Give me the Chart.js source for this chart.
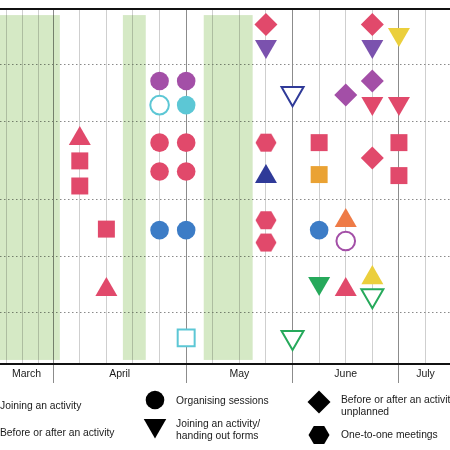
<!DOCTYPE html>
<html>
<head>
<meta charset="utf-8">
<script src="https://cdn.jsdelivr.net/npm/chart.js@4/dist/chart.umd.min.js"></script>
<style>
  body { margin: 0; background: #fff; }
  #wrap { position: relative; width: 450px; height: 450px; overflow: hidden;
          font-family: "Liberation Sans", Arial, sans-serif; color: #1a1a1a; }
  #chart { position: absolute; left: 0; top: 0; }
  .leg { position: absolute; font-size: 10.3px; line-height: 12px; white-space: nowrap; }
</style>
</head>
<body>
<div id="wrap">
  <canvas id="chart" width="450" height="450"></canvas>
  <div class="leg" style="left:0;top:400px">Joining an activity</div>
  <div class="leg" style="left:0;top:427px">Before or after an activity</div>
  <div class="leg" style="left:176px;top:395px">Organising sessions</div>
  <div class="leg" style="left:176px;top:418px">Joining an activity/<br>handing out forms</div>
  <div class="leg" style="left:341px;top:394px">Before or after an activity<br>unplanned</div>
  <div class="leg" style="left:341px;top:429px">One-to-one meetings</div>
</div>
<script>
// x = week number on the weekly grid, y = row position (0 top .. 14 bottom)
const gridWeeks = [0.256, 0.857, 1.459, 2, 3, 4, 5, 6, 7, 8, 9, 10, 11, 12, 13, 14, 15, 16];
const monthEdges = [2, 7, 11, 15];
const monthNames = ["March", "April", "May", "June", "July"];
const monthCentres = [1, 4.5, 9, 13, 16];
const rowLines = [2.17, 4.42, 7.53, 9.78, 11.95];

// green shaded periods
const breakStarts = [0, 4.62, 7.66];
const breakEnds = [2.25, 5.48, 9.5];

// squares
const squareWeeks = [3, 3, 4, 7, 12, 12, 15, 15];
const squareRows = [5.99, 6.98, 8.68, 12.97, 5.27, 6.53, 5.27, 6.57];
const squareColours = ["red", "red", "red", "cyan", "red", "orange", "red", "red"];
const squareHollow = [0, 0, 0, 1, 0, 0, 0, 0];

// triangles pointing up
const upWeeks = [3, 4, 10, 13, 13, 14];
const upRows = [5.11, 11.07, 6.61, 8.35, 11.07, 10.6];
const upColours = ["red", "red", "navy", "coral", "red", "yellow"];
const upHollow = [0, 0, 0, 0, 0, 0];

// triangles pointing down (joining an activity / handing out forms)
const downWeeks = [10, 11, 11, 12, 14, 14, 14, 15, 15];
const downRows = [1.47, 3.33, 12.95, 10.82, 1.47, 3.72, 11.3, 1.0, 3.72];
const downColours = ["violet", "navy", "green", "green", "violet", "red", "green", "yellow", "red"];
const downHollow = [0, 1, 1, 0, 0, 0, 1, 0, 0];

// circles (organising sessions)
const circleWeeks = [6, 7, 6, 7, 6, 7, 6, 7, 6, 7, 12, 13];
const circleRows = [2.84, 2.84, 3.79, 3.79, 5.27, 5.27, 6.41, 6.41, 8.72, 8.72, 8.72, 9.15];
const circleColours = ["purple", "purple", "cyan", "cyan", "red", "red", "red", "red", "blue", "blue", "blue", "purple"];
const circleHollow = [0, 0, 1, 0, 0, 0, 0, 0, 0, 0, 0, 1];

// diamonds (before or after an activity unplanned)
const diamondWeeks = [10, 13, 14, 14, 14];
const diamondRows = [0.61, 3.39, 0.61, 2.84, 5.88];
const diamondColours = ["red", "purple", "red", "purple", "red"];
const diamondHollow = [0, 0, 0, 0, 0];

// hexagons (one-to-one meetings)
const hexWeeks = [10, 10, 10];
const hexRows = [5.27, 8.33, 9.21];
const hexColours = ["red", "red", "red"];

const palette = {
  red: "#e1496b", purple: "#a34fa7", violet: "#7b52ae", cyan: "#5cc7d5",
  blue: "#3c7cc6", navy: "#2f3a98", orange: "#eaa233", coral: "#ee7b47",
  green: "#26a95b", yellow: "#ebcf3c"
};
const bandColour = "#d5e9c5";

function near(v, list) {
  return list.some((a) => Math.abs(a - v) < 0.001);
}

function hexagon(colour) {
  const c = document.createElement("canvas");
  c.width = 22;
  c.height = 20;
  const g = c.getContext("2d");
  g.fillStyle = colour;
  g.beginPath();
  for (let i = 0; i < 6; i++) {
    const a = (Math.PI / 3) * i;
    g.lineTo(11 + 10.5 * Math.cos(a), 10 + 10.5 * Math.sin(a));
  }
  g.closePath();
  g.fill();
  return c;
}

function markerSet(label, style, radius, rotation, weeks, rows, colours, hollow) {
  return {
    label: label,
    data: weeks.map((w, i) => ({ x: w, y: rows[i] })),
    pointStyle: style,
    pointRadius: radius,
    pointHoverRadius: radius,
    pointRotation: rotation,
    pointBackgroundColor: colours.map((c, i) => (hollow[i] ? "#ffffff" : palette[c])),
    pointBorderColor: colours.map((c) => palette[c]),
    pointBorderWidth: hollow.map((h) => (h ? 2 : 0))
  };
}

const frame = {
  id: "frame",
  beforeDatasetsDraw(chart) {
    // shaded periods, multiplied over the grid so the lines still show through
    const { ctx, chartArea, scales } = chart;
    ctx.save();
    ctx.beginPath();
    ctx.rect(chartArea.left, chartArea.top, chartArea.width, chartArea.height);
    ctx.clip();
    ctx.globalCompositeOperation = "multiply";
    ctx.fillStyle = bandColour;
    const y0 = scales.y.getPixelForValue(0.24);
    const y1 = scales.y.getPixelForValue(13.84);
    breakStarts.forEach((s, i) => {
      const x0 = scales.x.getPixelForValue(s);
      const x1 = scales.x.getPixelForValue(breakEnds[i]);
      ctx.fillRect(x0, y0, x1 - x0, y1 - y0);
    });
    ctx.restore();
  },
  afterDraw(chart) {
    const { ctx, chartArea } = chart;
    ctx.save();
    // top rule
    ctx.strokeStyle = "#111";
    ctx.lineWidth = 2;
    ctx.beginPath();
    ctx.moveTo(chartArea.left, chartArea.top);
    ctx.lineTo(chartArea.right, chartArea.top);
    ctx.stroke();
    // legend symbols
    ctx.fillStyle = "#000";
    const draw = Chart.helpers.drawPoint;
    draw(ctx, { pointStyle: "circle", radius: 9.3, rotation: 0, borderWidth: 0 }, 155, 400);
    draw(ctx, { pointStyle: "triangle", radius: 13, rotation: 180, borderWidth: 0 }, 155, 425.5);
    draw(ctx, { pointStyle: "rectRot", radius: 11.5, rotation: 0, borderWidth: 0 }, 319, 402);
    draw(ctx, { pointStyle: hexagon("#000"), radius: 10, rotation: 0, borderWidth: 0 }, 319, 435);
    ctx.restore();
  }
};

const xTicks = Array.from(new Set(gridWeeks.concat(monthCentres))).sort((a, b) => a - b);

new Chart(document.getElementById("chart"), {
  type: "scatter",
  data: {
    datasets: [
      markerSet("Joining an activity", "rect", 12, 0, squareWeeks, squareRows, squareColours, squareHollow),
      markerSet("Before or after an activity", "triangle", 12.7, 0, upWeeks, upRows, upColours, upHollow),
      markerSet("Joining an activity/handing out forms", "triangle", 12.7, 180, downWeeks, downRows, downColours, downHollow),
      markerSet("Organising sessions", "circle", 9.3, 0, circleWeeks, circleRows, circleColours, circleHollow),
      markerSet("Before or after an activity unplanned", "rectRot", 11.5, 0, diamondWeeks, diamondRows, diamondColours, diamondHollow),
      {
        label: "One-to-one meetings",
        data: hexWeeks.map((w, i) => ({ x: w, y: hexRows[i] })),
        pointStyle: hexColours.map((c) => hexagon(palette[c])),
        pointRadius: 10,
        pointHoverRadius: 10
      }
    ]
  },
  options: {
    responsive: false,
    animation: false,
    events: [],
    layout: { autoPadding: false, padding: { top: 9, left: 0, right: 0, bottom: 66 } },
    plugins: { legend: { display: false }, tooltip: { enabled: false } },
    scales: {
      x: {
        type: "linear",
        min: 0,
        max: 16.92,
        afterBuildTicks: (s) => {
          s.ticks = xTicks.map((v) => ({ value: v }));
        },
        afterFit: (s) => {
          s.height = 20;
        },
        grid: {
          color: (c) => {
            if (!c.tick) return "#cfcfcf";
            if (near(c.tick.value, monthEdges)) return "#8c8c8c";
            return near(c.tick.value, gridWeeks) ? "#cfcfcf" : "rgba(0,0,0,0)";
          },
          tickColor: (c) => (c.tick && near(c.tick.value, monthEdges) ? "#8c8c8c" : "rgba(0,0,0,0)"),
          tickLength: 19,
          lineWidth: 1
        },
        border: { display: true, color: "#111", width: 2 },
        ticks: {
          autoSkip: false,
          maxRotation: 0,
          padding: -15,
          color: "#1a1a1a",
          font: { family: "'Liberation Sans', Arial, sans-serif", size: 10.5 },
          callback: (v) => {
            const i = monthCentres.findIndex((m) => Math.abs(m - v) < 0.001);
            return i >= 0 ? monthNames[i] : "";
          }
        }
      },
      y: {
        type: "linear",
        reverse: true,
        min: 0,
        max: 14,
        afterBuildTicks: (s) => {
          s.ticks = rowLines.map((v) => ({ value: v }));
        },
        grid: { color: "#8a8a8a", lineWidth: 1, drawTicks: false },
        border: { display: false, dash: [1.5, 2.5] },
        ticks: { display: false }
      }
    }
  },
  plugins: [frame]
});
</script>
</body>
</html>
